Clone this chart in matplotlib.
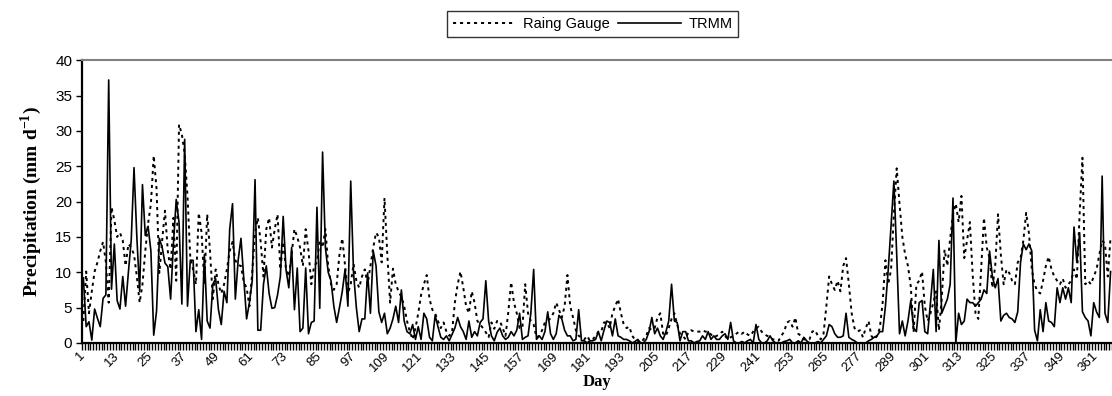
import numpy as np
import matplotlib.pyplot as plt

# daily precipitation (mm/d), day 1..366
trmm = [
    9.2, 2.3, 3.0, 0.4, 4.8, 3.5, 2.3, 6.3, 6.8, 37.2,
    7.6, 14.0, 6.0, 4.8, 9.4, 5.2, 10.0, 14.5, 24.8, 15.0,
    7.3, 22.4, 15.2, 16.5, 13.0, 1.1, 4.5, 14.8, 13.5, 11.3,
    10.8, 6.2, 14.0, 20.3, 17.0, 5.5, 28.8, 5.2, 11.7, 11.7,
    1.6, 4.7, 0.5, 12.5, 3.1, 2.1, 8.3, 9.1, 4.7, 2.6,
    7.3, 5.7, 16.1, 19.7, 6.2, 11.7, 14.8, 9.0, 3.4, 5.7,
    8.8, 23.1, 1.8, 1.8, 8.3, 10.9, 7.0, 4.9, 5.0, 6.8,
    9.4, 17.9, 10.4, 7.8, 13.5, 4.7, 10.6, 1.6, 2.1, 10.6,
    1.3, 2.9, 3.1, 19.2, 4.9, 27.0, 13.5, 10.0, 8.8, 5.2,
    2.9, 5.0, 7.3, 10.4, 5.2, 22.9, 9.9, 5.0, 1.6, 3.4,
    3.4, 9.9, 4.2, 13.0, 10.9, 4.4, 2.9, 4.2, 1.3, 2.1,
    3.4, 5.2, 2.9, 7.5, 3.1, 1.6, 1.3, 2.6, 0.5, 2.3,
    0.5, 4.2, 3.4, 0.8, 0.3, 3.9, 2.3, 0.8, 0.5, 1.0,
    0.3, 1.2, 2.1, 3.6, 2.3, 1.6, 0.5, 3.1, 0.8, 1.6,
    1.0, 2.9, 3.4, 8.8, 3.1, 1.0, 0.3, 1.5, 2.1, 1.0,
    0.5, 0.8, 1.6, 1.0, 1.8, 4.2, 0.5, 0.8, 1.0, 4.2,
    10.4, 0.5, 1.0, 0.5, 1.6, 4.4, 1.3, 0.5, 1.3, 3.9,
    3.4, 1.8, 1.0, 1.0, 0.3, 0.5, 4.7, 0.3, 0.3, 0.0,
    0.3, 0.3, 0.5, 1.6, 0.3, 1.8, 3.1, 2.9, 1.0, 3.4,
    1.0, 0.8, 0.5, 0.5, 0.3, 0.0, 0.2, 0.5, 0.0, 0.0,
    0.5, 1.6, 3.6, 1.3, 2.1, 1.0, 0.5, 1.6, 3.1, 8.3,
    3.1, 2.9, 0.3, 1.6, 1.6, 0.3, 0.3, 0.0, 0.2, 0.3,
    1.0, 0.5, 1.6, 0.5, 1.0, 0.5, 0.5, 1.0, 1.3, 0.5,
    2.9, 0.3, 0.0, 0.0, 0.2, 0.0, 0.3, 0.5, 0.0, 2.6,
    0.5, 0.0, 0.0, 0.3, 1.0, 0.3, 0.0, 0.0, 0.0, 0.2,
    0.3, 0.5, 0.0, 0.0, 0.3, 0.0, 0.8, 0.3, 0.0, 0.0,
    0.0, 0.2, 0.0, 0.5, 1.0, 2.6, 2.3, 1.3, 0.8, 0.8,
    1.0, 4.2, 0.8, 0.5, 0.3, 0.0, 0.0, 0.0, 0.0, 0.3,
    0.5, 0.8, 1.0, 1.6, 1.6, 5.2, 10.4, 16.6, 22.9, 12.5,
    1.3, 3.1, 1.0, 3.1, 6.0, 2.1, 1.6, 5.7, 6.0, 1.6,
    1.3, 5.7, 10.4, 1.6, 14.5, 4.2, 5.2, 6.2, 8.3, 20.5,
    0.0, 4.2, 2.6, 3.1, 6.2, 5.7, 5.7, 5.2, 5.7, 6.2,
    7.5, 7.0, 13.0, 9.4, 7.8, 9.1, 3.1, 3.9, 4.2, 3.6,
    3.4, 2.9, 4.4, 11.4, 14.0, 13.2, 14.0, 13.0, 1.8, 0.3,
    4.7, 1.6, 5.7, 3.1, 2.9, 2.3, 7.8, 5.7, 7.8, 6.2,
    7.8, 5.7, 16.4, 11.4, 15.6, 4.4, 3.6, 3.1, 1.0, 5.7,
    4.4, 3.6, 23.6, 4.2, 2.9, 10.1,
]

gauge = [
    3.1, 10.1, 4.2, 7.3, 10.1, 11.4, 13.0, 14.3, 11.4, 5.7,
    19.2, 17.4, 15.0, 15.6, 14.5, 10.9, 14.0, 13.5, 12.5, 9.4,
    5.7, 8.3, 13.0, 16.9, 19.7, 26.5, 21.8, 9.9, 14.5, 18.7,
    13.0, 10.4, 17.7, 8.8, 30.9, 29.5, 26.8, 20.8, 12.0, 10.4,
    8.3, 18.4, 15.6, 8.3, 18.2, 13.0, 6.2, 10.4, 8.3, 7.0,
    8.3, 10.4, 13.0, 14.3, 11.7, 11.0, 10.9, 8.6, 7.8, 5.2,
    10.0, 15.6, 17.7, 14.3, 9.4, 16.1, 17.7, 13.5, 16.1, 18.2,
    10.4, 14.3, 10.4, 9.4, 12.5, 16.1, 15.0, 13.5, 10.9, 16.1,
    13.0, 8.3, 10.9, 11.4, 14.5, 13.5, 16.1, 10.9, 8.3, 7.5,
    8.3, 12.5, 14.8, 10.9, 7.0, 8.3, 11.2, 8.8, 7.8, 9.4,
    10.4, 8.3, 10.9, 13.5, 15.6, 15.0, 11.4, 20.5, 12.5, 5.7,
    10.5, 8.3, 7.3, 6.5, 5.2, 3.1, 1.6, 0.5, 2.1, 4.2,
    6.8, 8.3, 9.6, 6.2, 4.7, 4.2, 3.1, 2.1, 2.9, 1.6,
    1.0, 1.5, 5.7, 8.3, 10.1, 7.8, 5.2, 4.2, 7.3, 5.7,
    3.1, 2.6, 2.1, 1.5, 0.8, 2.9, 2.0, 3.1, 3.1, 2.1,
    1.0, 4.4, 8.6, 5.7, 4.2, 2.1, 2.1, 8.3, 4.2, 3.1,
    2.6, 0.8, 1.0, 1.8, 2.9, 3.1, 3.5, 4.2, 5.7, 4.7,
    3.6, 5.2, 9.6, 5.2, 3.6, 1.8, 1.0, 0.8, 0.5, 1.0,
    0.3, 0.5, 1.0, 1.6, 1.6, 2.9, 2.9, 2.1, 4.2, 5.2,
    6.2, 4.2, 2.6, 2.1, 2.3, 1.0, 0.5, 0.3, 0.0, 0.5,
    1.0, 2.1, 1.8, 2.1, 3.6, 4.2, 1.3, 1.0, 2.1, 3.4,
    4.2, 2.6, 1.3, 1.0, 0.5, 1.6, 1.8, 1.6, 1.6, 1.6,
    1.8, 1.6, 1.6, 1.2, 0.8, 1.0, 1.2, 1.6, 1.0, 0.5,
    0.8, 1.0, 1.3, 1.6, 1.3, 1.6, 1.2, 1.0, 1.6, 2.1,
    2.3, 1.6, 1.2, 1.0, 0.8, 0.5, 0.5, 0.3, 1.0, 1.6,
    2.9, 3.1, 2.3, 3.6, 1.3, 1.0, 0.5, 0.5, 0.5, 1.6,
    1.8, 1.0, 0.5, 1.3, 5.2, 9.4, 8.3, 7.5, 8.8, 7.3,
    10.9, 12.0, 8.3, 4.2, 2.1, 1.6, 1.8, 0.8, 2.1, 3.1,
    1.0, 0.5, 1.0, 2.1, 5.7, 11.7, 8.3, 10.4, 18.2, 24.7,
    19.7, 15.0, 12.5, 10.9, 8.0, 1.5, 8.3, 8.8, 10.1, 5.2,
    3.1, 4.2, 5.7, 7.3, 1.8, 6.2, 13.2, 10.9, 14.8, 18.2,
    19.7, 17.1, 20.8, 12.0, 14.5, 17.1, 9.6, 4.2, 3.4, 10.4,
    17.7, 13.5, 12.0, 7.8, 10.9, 18.2, 12.5, 8.3, 10.4, 9.9,
    8.8, 8.3, 11.4, 12.0, 14.5, 18.4, 15.5, 10.4, 8.3, 7.3,
    7.0, 8.8, 10.9, 12.2, 10.4, 9.4, 8.8, 8.3, 9.1, 7.8,
    8.3, 8.8, 10.4, 9.0, 18.2, 26.2, 8.3, 8.8, 8.3, 9.4,
    10.4, 12.5, 14.5, 14.0, 9.4, 15.0,
]

day = np.arange(1, len(trmm) + 1)
label_days = list(range(1, 366, 12))

fig = plt.figure(figsize=(11.12, 3.96), dpi=100)
ax = fig.add_axes([0.0737, 0.134, 0.9263, 0.714])

ax.plot(np.arange(1, len(gauge) + 1), gauge, color='black', lw=1.4,
        linestyle=(0, (1.6, 2.0)), label='Raing Gauge')
ax.plot(day, trmm, color='black', lw=1.2, label='TRMM')

ax.set_xlim(0.5, 366.5)
ax.set_ylim(0, 40)
ax.set_yticks(np.arange(0, 41, 5))
ax.set_yticklabels([str(v) for v in range(0, 41, 5)], fontsize=11, family='Liberation Sans')

ax.set_xticks(label_days)
ax.set_xticklabels([str(d) for d in label_days], rotation=45, ha='right', va='center',
                   rotation_mode='anchor', fontsize=9.5, family='Liberation Sans')
ax.set_xticks(np.arange(0.5, 367, 1), minor=True)
ax.tick_params(axis='x', which='major', length=0, pad=8)
ax.tick_params(axis='x', which='minor', length=5, width=1, direction='out')
ax.tick_params(axis='y', length=4, width=1, direction='out', pad=3)

for s in ['left', 'bottom']:
    ax.spines[s].set_linewidth(1.6)
    ax.spines[s].set_color('black')
ax.spines['top'].set_color('#808080')
ax.spines['top'].set_linewidth(1.5)
ax.spines['right'].set_visible(False)

ax.set_ylabel('Precipitation (mm d$^{\\mathregular{-1}}$)', family='Liberation Serif',
              fontweight='bold', fontsize=14, labelpad=8)
ax.set_xlabel('Day', family='Liberation Serif', fontweight='bold', fontsize=12, labelpad=0)

leg = fig.legend(loc='center', bbox_to_anchor=(0.533, 0.94), ncol=2, frameon=True,
                 fancybox=False, edgecolor='black', prop={'family': 'Liberation Sans', 'size': 10.5},
                 handlelength=4.3, handletextpad=0.5, columnspacing=0.6, borderpad=0.4)
leg.get_frame().set_linewidth(1.0)

fig.savefig('out.png', dpi=100)
